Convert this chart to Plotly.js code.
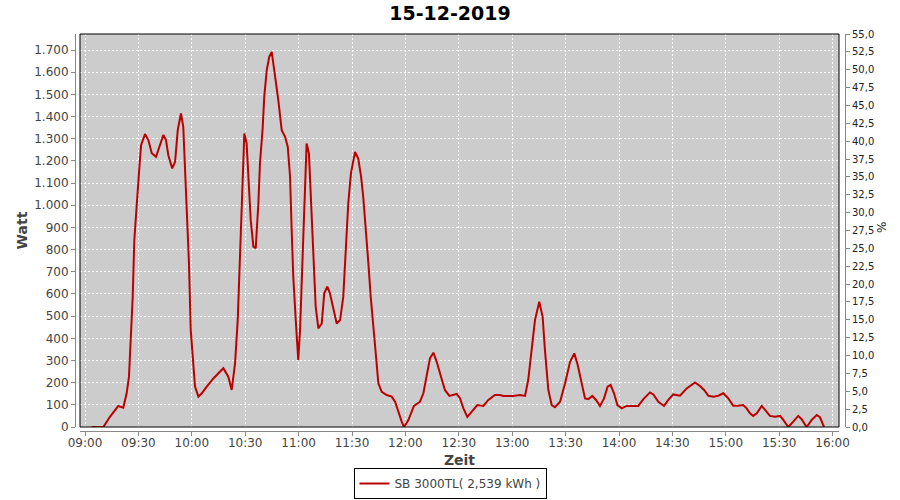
<!DOCTYPE html>
<html>
<head>
<meta charset="utf-8">
<script src="https://cdn.plot.ly/plotly-3.0.1.min.js"></script>
<style>html,body{margin:0;padding:0;background:#fff;}#chart{width:900px;height:500px;}</style>
</head>
<body>
<div id="chart"></div>
<script>
var day = '2019-12-15';
var chartTitle = '15-12-2019';
var seriesName = 'SB 3000TL( 2,539 kWh )';
var rightTitle = '%';
var times = [
'09:03:48','09:10:18','09:14:00','09:18:42','09:21:30','09:23:24','09:24:42','09:25:42','09:26:48','09:27:42',
'09:29:00','09:30:18','09:31:30','09:33:42','09:35:36','09:37:30','09:39:54','09:41:36','09:44:00','09:45:30',
'09:46:48','09:49:00','09:50:36','09:52:06','09:53:54','09:55:12','09:56:42','09:57:42','09:58:24','09:59:24',
'10:00:30','10:01:48','10:03:42','10:05:36','10:08:24','10:12:06','10:17:42','10:20:30','10:22:24','10:24:18',
'10:25:48','10:27:06','10:28:24','10:29:30','10:30:48','10:31:48','10:33:06','10:34:36','10:35:54','10:37:24',
'10:38:18','10:39:48','10:40:42','10:42:06','10:43:30','10:44:54','10:46:42','10:48:36','10:50:30','10:52:24',
'10:53:54','10:55:12','10:56:06','10:57:00','10:58:24','10:59:30','10:59:48','11:00:48','11:01:42','11:02:36',
'11:03:36','11:04:30','11:05:48','11:06:54','11:08:18','11:09:36','11:11:06','11:13:00','11:14:24','11:16:06',
'11:17:36','11:19:30','11:21:24','11:23:18','11:25:06','11:26:36','11:27:54','11:29:24','11:31:42','11:33:30',
'11:35:06','11:36:18','11:37:54','11:39:12','11:40:30','11:42:00','11:43:30','11:44:48','11:46:42','11:49:30',
'11:52:18','11:54:12','11:56:00','11:57:54','11:59:12','12:01:36','12:04:48','12:08:12','12:10:06','12:12:00',
'12:13:48','12:15:42','12:17:36','12:20:00','12:22:12','12:24:42','12:26:54','12:28:48','12:30:42','12:32:36',
'12:34:48','12:37:18','12:40:24','12:43:48','12:46:36','12:50:18','12:53:06','12:55:00','13:00:36','13:04:24',
'13:07:12','13:09:00','13:11:00','13:12:48','13:15:12','13:17:06','13:18:24','13:20:18','13:22:12','13:24:00',
'13:26:54','13:29:42','13:32:30','13:34:54','13:36:48','13:39:00','13:40:54','13:42:48','13:45:00','13:47:06',
'13:49:18','13:51:36','13:53:36','13:55:18','13:57:12','13:59:06','14:01:30','14:04:18','14:10:48','14:13:42',
'14:17:24','14:19:18','14:22:06','14:25:18','14:27:42','14:30:30','14:34:18','14:38:00','14:42:42','14:45:30',
'14:47:48','14:50:12','14:53:00','14:55:48','14:58:36','15:01:24','15:04:12','15:07:00','15:09:48','15:11:42',
'15:13:36','15:15:24','15:17:24','15:20:12','15:22:00','15:24:48','15:27:36','15:30:30','15:32:18','15:35:06',
'15:37:54','15:40:42','15:42:36','15:45:24','15:48:18','15:51:06','15:52:54','15:55:12'
];
var watt = [
0,0,46,95,87,152,227,392,588,843,
1010,1145,1271,1321,1294,1235,1219,1264,1317,1294,
1226,1166,1196,1339,1414,1354,1099,888,739,437,
302,182,137,152,182,219,265,227,167,287,
482,813,1129,1324,1279,1099,933,813,806,1009,
1190,1347,1489,1610,1670,1692,1595,1474,1339,1309,
1264,1129,888,678,482,347,302,437,648,888,
1159,1279,1234,1009,738,543,445,467,603,633,
603,528,467,482,588,813,1009,1144,1241,1211,
1129,1039,888,738,588,467,317,197,159,144,
137,114,69,24,0,30,95,114,152,227,
310,335,294,227,167,140,144,149,129,84,
46,69,99,95,122,144,144,140,140,144,
140,212,347,482,565,497,347,167,99,89,
114,197,294,332,280,197,129,126,140,122,
95,129,182,190,152,99,84,95,95,126,
156,147,114,95,122,147,141,174,201,185,
167,141,137,141,152,129,96,96,99,84,
62,50,62,95,77,50,46,50,32,0,
24,50,35,0,32,54,44,0
];
var xStart = '08:57:11', xEnd = '16:03:36';
var wattMax = 1772.5, pctMax = 55;

var x = times.map(function(t){ return day + ' ' + t; });
var font = 'DejaVu Sans';

var traces = [
  {x: x, y: watt, type: 'scatter', mode: 'lines', name: seriesName,
   line: {color: '#BB0000', width: 2}, xaxis: 'x', yaxis: 'y'},
  {x: [], y: [], type: 'scatter', mode: 'lines', showlegend: false,
   hoverinfo: 'skip', xaxis: 'x', yaxis: 'y2'}
];

var L = 75, R = 55, T = 34, B = 69;
var W = 900 - L - R, H = 500 - T - B;
var layout = {
  width: 900, height: 500,
  margin: {l: L, r: R, t: T, b: B, pad: 0, autoexpand: false},
  paper_bgcolor: '#ffffff',
  plot_bgcolor: '#CCCCCC',
  separators: ',.',
  font: {family: font, size: 12, color: '#444444'},
  title: {text: chartTitle, font: {family: font, size: 19, color: '#000000', weight: 'bold'},
          x: 0.5, xanchor: 'center', y: 1 - 13/500, yanchor: 'middle'},
  showlegend: true,
  legend: {xref: 'container', yref: 'container', x: 450/900, xanchor: 'center', y: 1 - 499/500, yanchor: 'bottom',
           bordercolor: '#000000', borderwidth: 1, bgcolor: '#ffffff',
           font: {family: font, size: 12, color: '#444444'}, itemwidth: 30},
  xaxis: {
    type: 'date', domain: [5/W, 764/W], anchor: 'free', position: 0,
    range: [day + ' ' + xStart, day + ' ' + xEnd],
    tick0: day + ' 09:00:00', dtick: 1800000, tickformat: '%H:%M',
    showline: true, linecolor: '#888888', linewidth: 1,
    ticks: 'outside', ticklen: 4, tickcolor: '#888888', ticklabelstandoff: -3,
    showgrid: true, gridcolor: '#ffffff', griddash: '2px,2px', gridwidth: 1,
    zeroline: false,
    tickfont: {family: font, size: 12, color: '#444444'},
    title: {text: 'Zeit', font: {family: font, size: 14, color: '#444444', weight: 'bold'}, standoff: 5}
  },
  yaxis: {
    domain: [4/H, 1], anchor: 'free', position: 0,
    range: [0, wattMax], dtick: 100, tick0: 0, tickformat: ',d',
    showline: true, linecolor: '#888888', linewidth: 1,
    ticks: 'outside', ticklen: 4, tickcolor: '#888888',
    showgrid: true, gridcolor: '#ffffff', griddash: '2px,2px', gridwidth: 1,
    zeroline: false,
    tickfont: {family: font, size: 12, color: '#444444'},
    title: {text: 'Watt', font: {family: font, size: 14, color: '#444444', weight: 'bold'}, standoff: 2}
  },
  yaxis2: {
    overlaying: 'y', side: 'right', anchor: 'free', position: 1,
    range: [0, pctMax], dtick: 2.5, tick0: 0, tickformat: '.1f',
    showline: true, linecolor: '#888888', linewidth: 1,
    ticks: 'outside', ticklen: 4, tickcolor: '#888888',
    showgrid: false, zeroline: false,
    tickfont: {family: font, size: 10, color: '#222222'}
  },
  annotations: [
    {text: rightTitle, xref: 'paper', yref: 'paper', x: (882 - L)/W, y: (431 - 228)/H,
     xanchor: 'center', yanchor: 'middle', textangle: -90, showarrow: false,
     font: {family: font, size: 12, color: '#222222'}}
  ],
  shapes: [
    {type: 'rect', xref: 'paper', yref: 'paper', x0: 5/W, x1: 764/W, y0: 4/H, y1: 1,
     line: {color: '#000000', width: 1}, fillcolor: 'rgba(0,0,0,0)', layer: 'above'}
  ]
};

Plotly.newPlot('chart', traces, layout, {displayModeBar: false, staticPlot: true});
</script>
</body>
</html>
